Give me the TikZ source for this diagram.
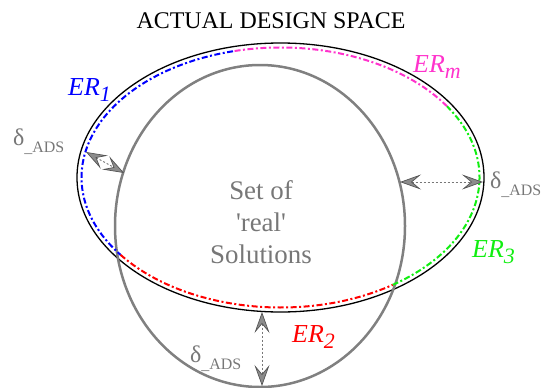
\documentclass[tikz,border=0pt]{standalone}
\usepackage{fontspec}
\setmainfont{Liberation Serif}
\usetikzlibrary{arrows.meta}

\definecolor{ermag}{HTML}{FF33CC}
\definecolor{ergreen}{HTML}{11EE11}
\definecolor{setgray}{HTML}{808080}
\definecolor{textgray}{HTML}{777777}
\definecolor{tipgray}{HTML}{8C8C8C}
\definecolor{tipedge}{HTML}{555555}

\newcommand{\erlab}[1]{ER\raisebox{-6bp}{\fontsize{22}{22}\selectfont #1}}
\newcommand{\deltaads}{\fontsize{24}{24}\selectfont δ\raisebox{-7bp}{\fontsize{16}{16}\selectfont\_ADS}}

\begin{document}
\begin{tikzpicture}[x=1bp, y=1bp,
    >={Stealth[length=21bp,width=15bp,inset=9bp,fill=tipgray,color=tipedge,line width=0.7bp]},
    region/.style={line width=2bp, dash pattern=on 6bp off 2.5bp on 2bp off 2.5bp},
    erlabel/.style={anchor=base west, inner sep=0pt, font=\fontsize{26}{26}\selectfont\itshape},
    adslabel/.style={anchor=base west, inner sep=0pt, text=textgray},
    gap/.style={<->, draw=textgray, line width=0.9bp, dash pattern=on 2bp off 2bp}]
    \useasboundingbox (0,0) rectangle (549,387);

    % Design space and set of real solutions
    \coordinate (ads) at (280.5,209.5);
    \coordinate (sol) at (260,161);
    \draw[line width=1.3bp] (ads) ellipse[x radius=203.5, y radius=134.5];
    \draw[setgray, line width=2.5bp] (sol) ellipse[x radius=145, y radius=161];

    % Regions along the border
    \draw[region, blue] ([shift={(ads)}]103.8:199 and 130) arc[start angle=103.8, end angle=216.5, x radius=199, y radius=130];
    \draw[region, ermag] ([shift={(ads)}]33.2:199 and 130) arc[start angle=33.2, end angle=103.8, x radius=199, y radius=130];
    \draw[region, ergreen] ([shift={(ads)}]-55.7:199 and 130) arc[start angle=-55.7, end angle=33.2, x radius=199, y radius=130];
    \draw[region, red] ([shift={(ads)}]216.5:199 and 130) arc[start angle=216.5, end angle=304.3, x radius=199, y radius=130];

    % Gaps
    \coordinate (gapL1) at (86,235);
    \coordinate (gapL2) at (124,214);
    \coordinate (gapR1) at (400,205);
    \coordinate (gapR2) at (483,205);
    \coordinate (gapB1) at (262,75);
    \coordinate (gapB2) at (262,1);
    \draw[gap] (gapL1) -- (gapL2);
    \draw[gap] (gapR1) -- (gapR2);
    \draw[gap] (gapB1) -- (gapB2);

    % Labels
    \node[font=\fontsize{24}{24}\selectfont, anchor=base] (title) at (271,359) {ACTUAL DESIGN SPACE};
    \node[erlabel, blue] (er1) at (68,292) {\erlab{1}};
    \node[erlabel, ermag] (erm) at (413,315) {\erlab{m}};
    \node[erlabel, ergreen] (er3) at (472,130) {\erlab{3}};
    \node[erlabel, red] (er2) at (292,45) {\erlab{2}};
    \node[adslabel] (adsL) at (13,242) {\deltaads};
    \node[adslabel] (adsR) at (490,199) {\deltaads};
    \node[adslabel] (adsB) at (190,25) {\deltaads};
    \node[text=textgray, align=center, font=\fontsize{27}{32}\selectfont] (real) at (261,165) {Set of\\\textquotesingle real\textquotesingle\\Solutions};

\end{tikzpicture}
\end{document}
